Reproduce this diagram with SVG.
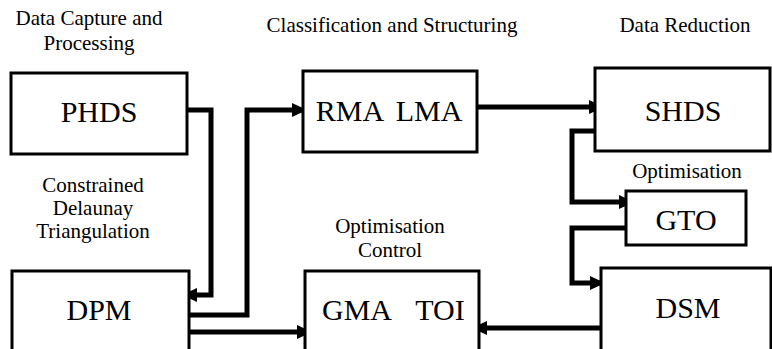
<svg xmlns="http://www.w3.org/2000/svg" width="772" height="349" viewBox="0 0 772 349">
  <style>
    .box { fill: #ffffff; stroke: #000000; stroke-width: 3; }
    .lbl { font-size: 30px; fill: #000000; text-anchor: middle; }
    .cap { font-size: 21px; fill: #000000; text-anchor: middle; }
    .wire { fill: none; stroke: #000000; stroke-width: 5; stroke-linejoin: miter; marker-end: url(#tip); }
  </style>
  <defs>
    <marker id="tip" markerUnits="userSpaceOnUse" markerWidth="16" markerHeight="16" viewBox="0 0 16 16" refX="14" refY="8" orient="auto">
      <path d="M0,1 L15,8 L0,15 Z" fill="#000000"/>
    </marker>
  </defs>
  <rect width="772" height="349" fill="#ffffff"/>

  <!-- stage captions -->
  <g font-family="Liberation Serif, Tinos, Times New Roman, Noto Serif, DejaVu Serif, serif">
    <text class="cap" x="89" y="25">Data Capture and</text>
    <text class="cap" x="89" y="50">Processing</text>
    <text class="cap" x="392" y="32">Classification and Structuring</text>
    <text class="cap" x="685" y="32">Data Reduction</text>
    <text class="cap" x="93" y="192">Constrained</text>
    <text class="cap" x="93" y="215">Delaunay</text>
    <text class="cap" x="93" y="238">Triangulation</text>
    <text class="cap" x="390" y="233">Optimisation</text>
    <text class="cap" x="390" y="257">Control</text>
    <text class="cap" x="687" y="178">Optimisation</text>
  </g>

  <!-- connectors -->
  <g id="connectors">
    <path class="wire" d="M187,110 H211 V295 H183"/>
    <path class="wire" d="M189,315 H247 V110 H306"/>
    <path class="wire" d="M189,332 H311"/>
    <path class="wire" d="M477,107 H603"/>
    <path class="wire" d="M595,131 H572 V202 H633"/>
    <path class="wire" d="M626,228 H572 V283 H604"/>
    <path class="wire" d="M601,328 H473"/>
  </g>

  <!-- nodes -->
  <g font-family="Liberation Serif, Tinos, Times New Roman, Noto Serif, DejaVu Serif, serif">
    <g id="phds">
      <rect class="box" x="11" y="73" width="176" height="81"/>
      <text class="lbl" x="99" y="122">PHDS</text>
    </g>
    <g id="rma-lma">
      <rect class="box" x="303" y="71" width="174" height="81"/>
      <text class="lbl" x="350" y="121">RMA</text>
      <text class="lbl" x="429" y="121">LMA</text>
    </g>
    <g id="shds">
      <rect class="box" x="595" y="68" width="175" height="83"/>
      <text class="lbl" x="683" y="121">SHDS</text>
    </g>
    <g id="gto">
      <rect class="box" x="626" y="191" width="120" height="54"/>
      <text class="lbl" x="686" y="230">GTO</text>
    </g>
    <g id="dpm">
      <rect class="box" x="12" y="271" width="177" height="95"/>
      <text class="lbl" x="99" y="320">DPM</text>
    </g>
    <g id="gma-toi">
      <rect class="box" x="305" y="271" width="174" height="95"/>
      <text class="lbl" x="357" y="320">GMA</text>
      <text class="lbl" x="440" y="320">TOI</text>
    </g>
    <g id="dsm">
      <rect class="box" x="601" y="268" width="170" height="95"/>
      <text class="lbl" x="688" y="318">DSM</text>
    </g>
  </g>
</svg>
